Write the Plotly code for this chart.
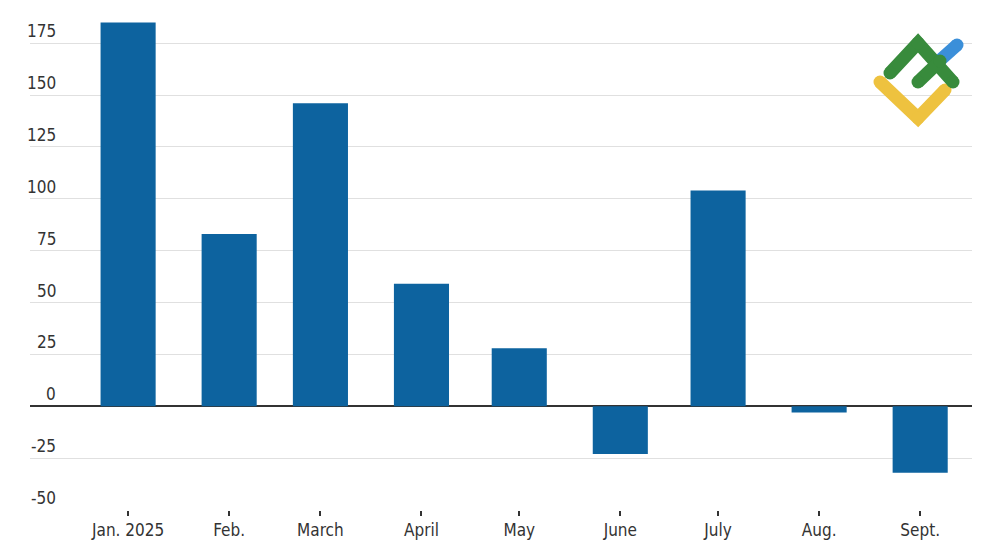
import pandas as pd
import plotly.graph_objects as go

months = ["Jan. 2025", "Feb.", "March", "April", "May", "June", "July", "Aug.", "Sept."]
month_dates = ["2025-01-01", "2025-02-01", "2025-03-01", "2025-04-01", "2025-05-01",
               "2025-06-01", "2025-07-01", "2025-08-01", "2025-09-01"]
jobs_change = [185, 83, 146, 59, 28, -23, 104, -3, -32]
y_ticks = [-50, -25, 0, 25, 50, 75, 100, 125, 150, 175]

# logo strokes in pixel coordinates (decoration)
logo_yellow_x = [880, 918, 945]
logo_yellow_y = [82, 118, 90]
logo_green1_x = [890, 918, 953]
logo_green1_y = [73, 43, 82]
logo_green2_x = [918, 940]
logo_green2_y = [82, 61]
logo_blue_x = [938, 957]
logo_blue_y = [62, 45]

FONT = "DejaVu Sans Condensed, Liberation Sans Narrow, Roboto, sans-serif"
BAR = "#0d639f"
TXT = "#333333"
DAY_MS = 86400000

start = pd.Timestamp(month_dates[0])
x_range = [start - pd.Timedelta(days=30.1), start + pd.Timedelta(days=258.9)]

fig = go.Figure()
fig.add_trace(go.Bar(x=month_dates, y=jobs_change, marker_color=BAR,
                     marker_line_width=0, width=16.9 * DAY_MS, hoverinfo="skip"))

def stroke(xs, ys, color):
    fig.add_trace(go.Scatter(x=xs, y=ys, xaxis="x2", yaxis="y2", mode="lines+markers",
                             line=dict(color=color, width=13),
                             marker=dict(color=color, size=13, line_width=0),
                             hoverinfo="skip", showlegend=False))

stroke(logo_yellow_x, logo_yellow_y, "#eec23f")
stroke(logo_blue_x, logo_blue_y, "#3b8fd9")
stroke(logo_green1_x, logo_green1_y, "#388b3c")
stroke(logo_green2_x, logo_green2_y, "#388b3c")

for v in y_ticks:
    fig.add_annotation(x=(58 - 30) / 942, xref="paper", y=v, yref="y", text=str(v),
                       showarrow=False, xanchor="right", yanchor="bottom", yshift=0,
                       font=dict(family=FONT, size=17, color=TXT))

# page body has an 8px margin, so the figure is sized to end at the window edge
fig.update_layout(
    width=992, height=537,
    margin=dict(l=22, r=28, t=4, b=35, autoexpand=False),
    plot_bgcolor="white", paper_bgcolor="white",
    showlegend=False,
    xaxis=dict(type="date", range=[str(x_range[0]), str(x_range[1])],
               tickmode="array", tickvals=month_dates,
               ticktext=months, showgrid=False, zeroline=False, automargin=False,
               showline=False, ticks="outside", ticklen=5, tickwidth=1.5,
               tickcolor="#333333",
               tickfont=dict(family=FONT, size=17, color=TXT)),
    yaxis=dict(range=[-50, 190], tickvals=y_ticks, showticklabels=False, automargin=False,
               showgrid=True, gridcolor="#e0e0e0", gridwidth=1,
               zeroline=True, zerolinecolor="#333333", zerolinewidth=1.5),
    xaxis2=dict(overlaying="x", range=[30, 972], visible=False, domain=[0, 1]),
    yaxis2=dict(overlaying="y", range=[510, 12], visible=False),
)

fig.write_html("out.html")
